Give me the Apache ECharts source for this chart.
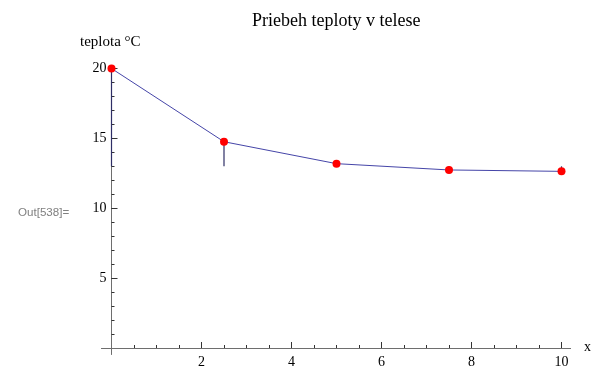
<!DOCTYPE html>
<html><head><meta charset="utf-8">
<script src="https://cdn.jsdelivr.net/npm/echarts@6/dist/echarts.min.js"></script>
<style>html,body{margin:0;padding:0;background:#fff}#c{width:592px;height:368px}</style>
</head><body><div id="c"></div>
<script>
const xValues = [0, 2.5, 5, 7.5, 10];
const temperatures = [20, 14.76, 13.19, 12.74, 12.64];
const stemBase = 13;
const xMajorTicks = [2, 4, 6, 8, 10];
const xMinorTicks = [0.5,1,1.5,2,2.5,3,3.5,4,4.5,5,5.5,6,6.5,7,7.5,8,8.5,9,9.5,10];
const yMajorTicks = [5, 10, 15, 20];
const yMinorTicks = [1,2,3,4,5,6,7,8,9,10,11,12,13,14,15,16,17,18,19,20];
const titleText = 'Priebeh teploty v telese';
const yName = 'teplota °C';
const xName = 'x';
const outLabel = 'Out[538]=';

const pts = xValues.map((x, i) => [x, temperatures[i]]);
const serif = '"Liberation Serif","Times New Roman",serif';
const axisColor = '#6e6e6e';
const xMin = -0.22, xMax = 10.2, yMin = -0.45, yMax = 20.2;

function xAxisDef(ticks, len, labels) {
  return {
    type: 'value', min: xMin, max: xMax, position: 'bottom',
    splitLine: {show: false},
    axisLine: {show: true, onZero: true, onZeroAxisIndex: 0, lineStyle: {color: axisColor, width: 1}},
    axisTick: {show: true, inside: true, length: len, customValues: ticks, lineStyle: {color: '#333'}},
    axisLabel: labels ? {show: true, customValues: labels, color: '#000', fontFamily: serif, fontSize: 14, margin: 1} : {show: false}
  };
}
function yAxisDef(ticks, len, labels) {
  return {
    type: 'value', min: yMin, max: yMax, position: 'left',
    splitLine: {show: false},
    axisLine: {show: true, onZero: true, onZeroAxisIndex: 0, lineStyle: {color: axisColor, width: 1}},
    axisTick: {show: true, inside: true, length: len, customValues: ticks, lineStyle: {color: '#333'}},
    axisLabel: labels ? {show: true, customValues: labels, color: '#000', fontFamily: serif, fontSize: 14, margin: -5} : {show: false}
  };
}

const chart = echarts.init(document.getElementById('c'), null, {renderer: 'canvas'});
chart.setOption({
  animation: false,
  backgroundColor: '#fff',
  grid: {left: 101.6, right: 21.5, top: 65.7, bottom: 13.7, containLabel: false, outerBoundsMode: 'none'},
  xAxis: [xAxisDef(xMinorTicks, 3, xMajorTicks), xAxisDef(xMajorTicks, 6, null)],
  yAxis: [yAxisDef(yMinorTicks, 3, yMajorTicks), yAxisDef(yMajorTicks, 6, null)],
  graphic: [
    {type: 'text', left: 252, top: 12, style: {text: titleText, font: '18px ' + serif, fill: '#000'}},
    {type: 'text', left: 80, top: 35, style: {text: yName, font: '15px ' + serif, fill: '#000'}},
    {type: 'text', left: 584, top: 340, style: {text: xName, font: '14px ' + serif, fill: '#000'}},
    {type: 'text', left: 18, top: 207, style: {text: outLabel, font: '11.6px "Liberation Sans",Arial,sans-serif', fill: '#808080'}}
  ],
  series: [
    {
      type: 'custom', xAxisIndex: 0, yAxisIndex: 0, z: 1,
      data: pts,
      renderItem: function (params, api) {
        const p1 = api.coord([api.value(0), api.value(1)]);
        const p2 = api.coord([api.value(0), stemBase]);
        return {type: 'line', shape: {x1: p1[0], y1: p1[1], x2: p2[0], y2: p2[1]},
                style: {stroke: '#2e2e66', lineWidth: 1.2}};
      }
    },
    {
      type: 'line', xAxisIndex: 0, yAxisIndex: 0, z: 3,
      data: pts,
      lineStyle: {color: '#4545a8', width: 1},
      symbol: 'circle', symbolSize: 8,
      itemStyle: {color: '#ff0000'},
      showSymbol: true
    }
  ]
});
</script></body></html>
